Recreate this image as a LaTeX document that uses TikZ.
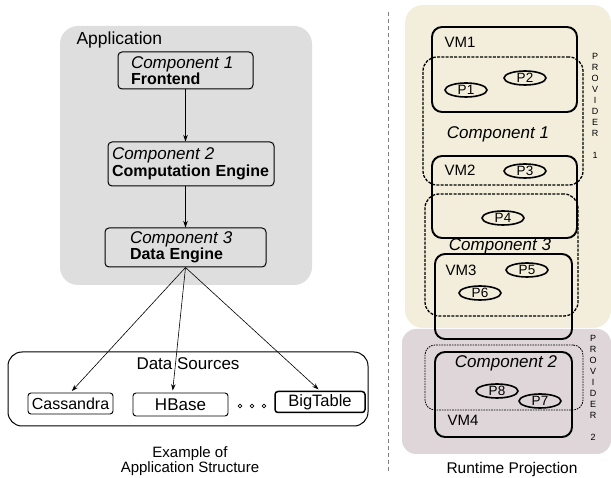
\documentclass[tikz,border=0pt]{standalone}
\usepackage{fontspec}
\setmainfont{Liberation Sans}
\usepackage{xcolor}
\usetikzlibrary{shapes.geometric}
\usetikzlibrary{positioning}
\usetikzlibrary{arrows.meta}

\definecolor{appgray}{RGB}{222,222,222}
\definecolor{provone}{RGB}{243,238,219}
\definecolor{provtwo}{RGB}{222,214,216}

\newcommand{\compname}[1]{{\fontsize{17}{17}\selectfont\itshape #1}}
\newcommand{\comprole}[1]{{\fontsize{16}{16}\selectfont\bfseries #1}}

\begin{document}
\begin{tikzpicture}[x=1pt, y=-1pt, >={Stealth[length=6.5pt, width=4.5pt]},
        font=\fontsize{15}{16}\selectfont,
        comp/.style={draw, line width=1pt, rounded corners=4pt, align=left, inner ysep=2.5pt},
        source/.style={draw, line width=0.9pt, rounded corners=3pt, inner sep=0pt},
        dot/.style={draw, circle, line width=0.7pt, inner sep=0pt, minimum size=3.8pt},
        vm/.style={draw, line width=1.9pt, rounded corners=10pt, inner sep=0pt},
        proc/.style={draw, ellipse, line width=1.6pt, minimum width=42pt, minimum height=14pt, inner sep=0pt, font=\fontsize{13.5}{13.5}\selectfont},
        group/.style={draw, dash pattern=on 3pt off 1.3pt, line width=1.3pt, rounded corners=14pt, inner sep=0pt},
        provider/.style={align=center, anchor=north, font=\fontsize{9}{11}\selectfont},
        link/.style={->, line width=0.6pt, shorten >=2pt}]
        \useasboundingbox (0,0) rectangle (611,478);

        \node (app) [fill=appgray, rounded corners=18pt, minimum width=252pt, minimum height=259pt] at (186, 155.5) {};
        \node (applabel) [anchor=west, font=\fontsize{17.5}{17.5}\selectfont] at (73, 40) {Application};

        \node (c1) [comp, inner xsep=13pt, text width=109pt, minimum height=37pt] at (185.5, 70.5) {\compname{Component 1}\\\comprole{Frontend}};
        \node (c2) [comp, inner xsep=4pt, text width=158pt, minimum height=44pt] at (191, 164) {\compname{Component 2}\\[1pt]\comprole{Computation Engine}};
        \node (c3) [comp, inner xsep=25pt, text width=111pt, minimum height=39pt] at (185.5, 247.5) {\compname{Component 3}\\\comprole{Data Engine}};

        \node (ds) [draw, line width=1pt, rounded corners=14pt, minimum width=360pt, minimum height=74pt] at (188, 389) {};
        \node (dslabel) [font=\fontsize{17}{17}\selectfont] at (188, 364) {Data Sources};

        \node (cas) [source, font=\fontsize{16}{16}\selectfont, minimum width=85pt, minimum height=21pt] at (70.5, 403.5) {Cassandra};
        \node (hb) [source, font=\fontsize{17}{17}\selectfont, minimum width=95pt, minimum height=23pt] at (180.5, 404.5) {HBase};
        \node (bt) [source, font=\fontsize{16.5}{16.5}\selectfont, line width=1.5pt, minimum width=90pt, minimum height=21pt] at (320, 402) {BigTable};
        \foreach \x in {240, 252, 264}
            \node [dot] at (\x, 406) {};

        \draw[link, shorten >=0pt] (c1.south) -- (c1.south |- c2.north);
        \draw[link, shorten >=0pt] (c3.north |- c2.south) -- (c3.north);
        \draw[link] (c3.south) -- (cas.north);
        \draw[link] (c3.south) -- ([xshift=-8pt]hb.north);
        \draw[link] (c3.south) -- (bt.north);

        \node (lefttitle) [align=center, font=\fontsize{15}{14.5}\selectfont] at (190, 461) {Example of\\Application Structure};

        \draw[gray, line width=0.6pt, dash pattern=on 4pt off 3pt] (388, 12) -- (388, 472);

        \fill[provone, rounded corners=18pt] (405, 5) rectangle (611, 328);
        \fill[provtwo, rounded corners=14pt] (402, 329) rectangle (611, 454);

        \node (vm1) [vm, minimum width=145pt, minimum height=85pt] at (504.5, 69.5) {};
        \node (vm2) [vm, minimum width=145pt, minimum height=82pt] at (504.5, 197) {};
        \node (vm3) [vm, minimum width=137pt, minimum height=85pt] at (503.5, 296.5) {};
        \node (vm4) [vm, minimum width=137pt, minimum height=85pt] at (503.5, 394.5) {};

        \node [anchor=west] at (441, 42) {VM1};
        \node [anchor=west] at (441, 170) {VM2};
        \node [anchor=west] at (442, 270) {VM3};
        \node [anchor=west] at (444, 420) {VM4};

        \node (g1) [group, minimum width=160pt, minimum height=128pt] at (503, 121) {};
        \node (g3) [group, minimum width=153pt, minimum height=122pt] at (501.5, 255) {};
        \node (g2) [group, line width=0.8pt, dash pattern=on 1.6pt off 1pt, rounded corners=10pt, minimum width=158pt, minimum height=65pt] at (504, 377.5) {};

        \node (g1label) at (498, 134) {\compname{Component 1}};
        \node (g3label) at (500, 246) {\compname{Component 3}};
        \node (g2label) at (506, 363) {\compname{Component 2}};

        \node (p1) [proc] at (466, 90) {P1};
        \node (p2) [proc] at (525, 78) {P2};
        \node (p3) [proc] at (525, 171) {P3};
        \node (p4) [proc] at (503, 218) {P4};
        \node (p5) [proc] at (527, 270) {P5};
        \node (p6) [proc] at (480, 293) {P6};
        \node (p8) [proc] at (497, 391) {P8};
        \node (p7) [proc] at (540, 401) {P7};

        \node (prov1) [provider] at (595, 50) {P\\R\\O\\V\\I\\D\\E\\R\\[11pt]1};
        \node (prov2) [provider] at (593, 332) {P\\R\\O\\V\\I\\D\\E\\R\\[11pt]2};

        \node (righttitle) [font=\fontsize{15.5}{15.5}\selectfont] at (512, 469) {Runtime Projection};
    \end{tikzpicture}
\end{document}
